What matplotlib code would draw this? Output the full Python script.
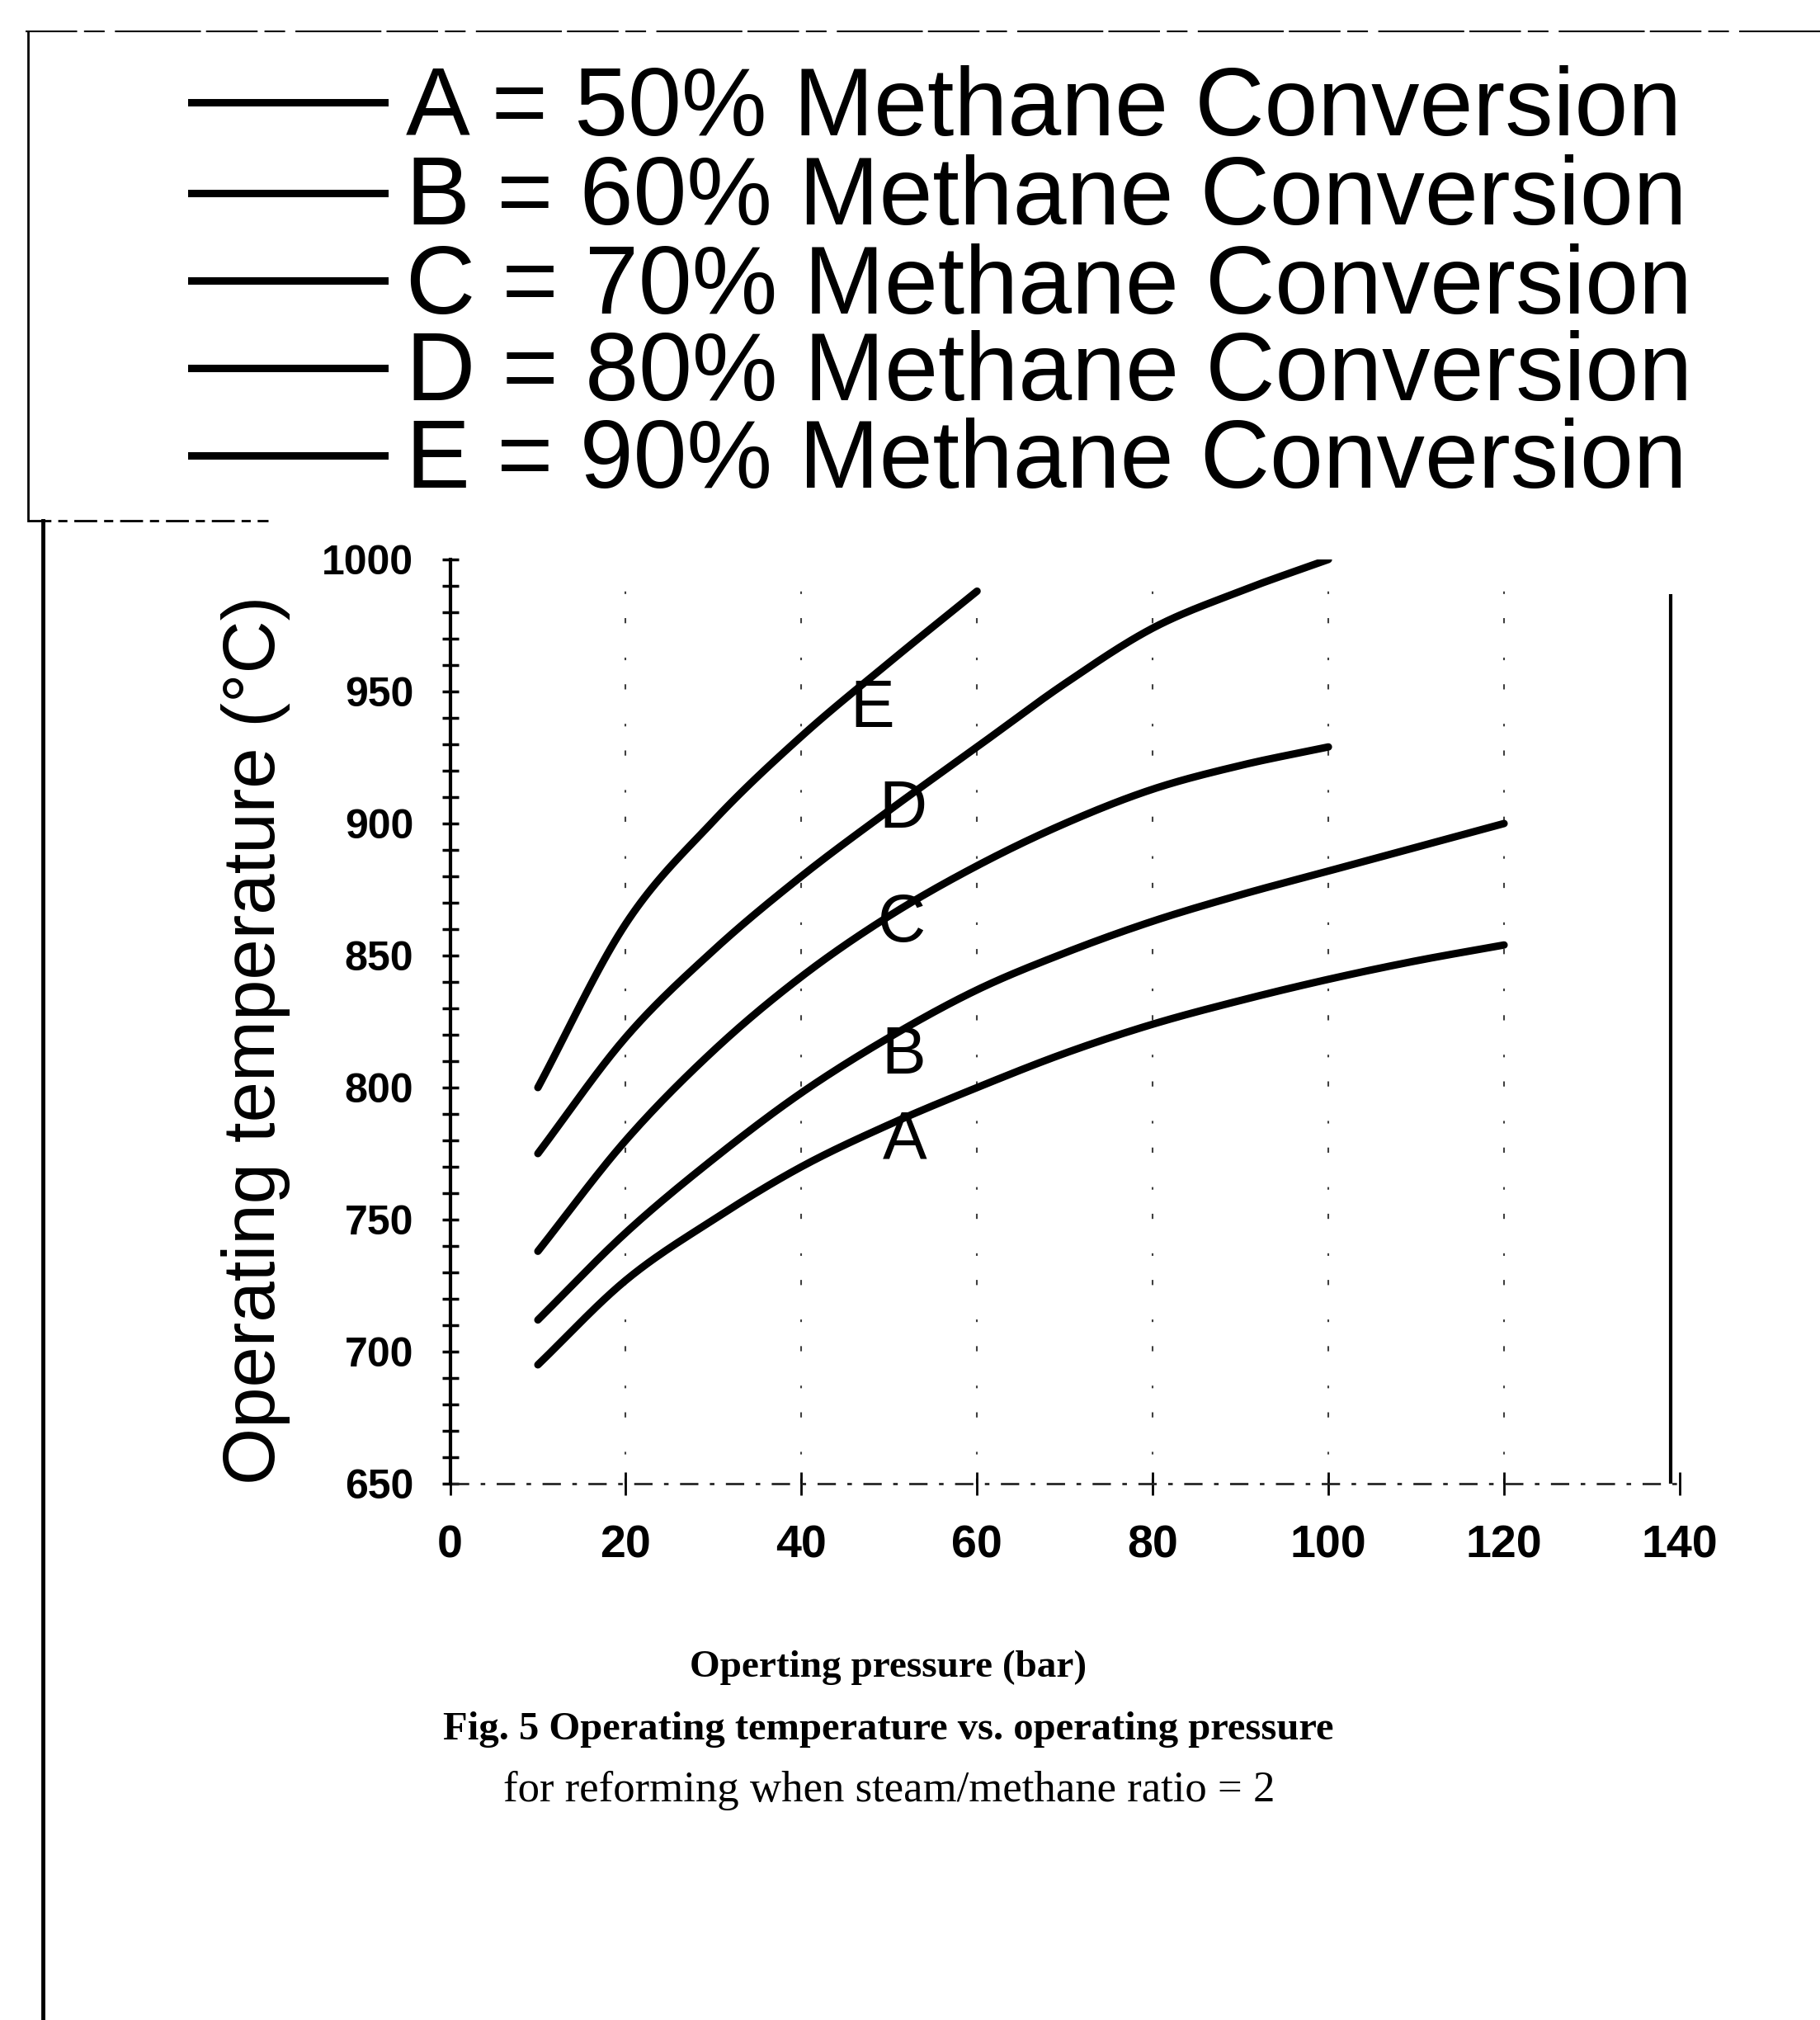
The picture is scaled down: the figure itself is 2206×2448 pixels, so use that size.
import numpy as np
import matplotlib
matplotlib.use('Agg')
import matplotlib.pyplot as plt
from matplotlib.lines import Line2D
from matplotlib.ticker import MultipleLocator

plt.rcParams['font.family'] = ['Liberation Sans', 'DejaVu Sans']

# Data (pressure in bar, temperature in deg C)
x_A = [10, 20, 30, 40, 50, 60, 70, 80, 90, 100, 110, 120]
t_A = [695, 727, 750, 770, 786, 800, 813, 824, 833, 841, 848, 854]
x_B = [10, 20, 30, 40, 50, 60, 70, 80, 90, 100, 110, 120]
t_B = [712, 745, 773, 798, 819, 837, 851, 863, 873, 882, 891, 900]
x_C = [10, 20, 30, 40, 50, 60, 70, 80, 90, 100]
t_C = [738, 780, 814, 842, 865, 884, 900, 913, 922, 929]
x_D = [10, 20, 30, 40, 50, 60, 70, 80, 90, 100]
t_D = [775, 819, 852, 880, 905, 929, 953, 974, 988, 1000]
x_E = [10, 20, 30, 40, 50, 60]
t_E = [800, 862, 901, 933, 961, 988]

curve_names = ['A', 'B', 'C', 'D', 'E']
conversions = [50, 60, 70, 80, 90]
label_x = [51.8, 51.6, 51.4, 51.6, 48.1]
label_t = [780, 812, 862, 905, 943]

xticks = [0, 20, 40, 60, 80, 100, 120, 140]
yticks = [650, 700, 750, 800, 850, 900, 950, 1000]


def smooth(x, y, n=25):
    # Catmull-Rom pass through the read points (like Excel's smoothed line)
    x = np.asarray(x, float)
    y = np.asarray(y, float)
    px = np.concatenate([[2 * x[0] - x[1]], x, [2 * x[-1] - x[-2]]])
    py = np.concatenate([[2 * y[0] - y[1]], y, [2 * y[-1] - y[-2]]])
    xs, ys = [], []
    t = np.linspace(0, 1, n)
    for i in range(1, len(px) - 2):
        for p, out in ((px, xs), (py, ys)):
            p0, p1, p2, p3 = p[i - 1], p[i], p[i + 1], p[i + 2]
            out.extend(0.5 * ((2 * p1) + (-p0 + p2) * t
                              + (2 * p0 - 5 * p1 + 4 * p2 - p3) * t ** 2
                              + (-p0 + 3 * p1 - 3 * p2 + p3) * t ** 3))
    return np.array(xs), np.array(ys)


W, H = 2206, 2448
fig = plt.figure(figsize=(W / 100, H / 100), dpi=100)
fig.patch.set_facecolor('white')


def fx(px):
    return px / W


def fy(py):
    return 1 - py / H


ax = fig.add_axes([fx(545.5), fy(1798), fx(2036) - fx(545.5), fy(678) - fy(1798)])
ax.set_xlim(0, 140)
ax.set_ylim(650, 1000)

series = [(x_A, t_A), (x_B, t_B), (x_C, t_C), (x_D, t_D), (x_E, t_E)]
for (xs, ts) in series:
    sx, sy = smooth(xs, ts)
    ax.plot(sx, sy, color='black', lw=6.5, solid_capstyle='round', zorder=3)

for name, lx, lt in zip(curve_names, label_x, label_t):
    ax.text(lx, lt, name, fontsize=58, ha='center', va='center', zorder=4)

# broken vertical grid lines
for gx in xticks[1:-1]:
    ax.axvline(gx, color='0.25', lw=1.5, linestyle=(0, (3, 14, 1.5, 20)), zorder=1)

ax.spines['top'].set_visible(False)
ax.spines['right'].set_visible(False)
ax.spines['bottom'].set_visible(False)
ax.spines['left'].set_linewidth(3)
ax.axhline(650, color='0.15', lw=2, linestyle=(0, (8, 5, 2, 5)), clip_on=False, zorder=2)
ax.vlines(139, 650, 987, color='black', lw=3)

ax.set_xticks(xticks)
ax.set_yticks(yticks)
ax.yaxis.set_minor_locator(MultipleLocator(10))
ax.tick_params(axis='y', which='both', direction='inout', length=14, width=2.5, pad=25)
ax.tick_params(axis='x', which='both', direction='inout', length=20, width=2, pad=26)
for lab in ax.get_yticklabels():
    lab.set_fontsize(36)
    lab.set_fontweight('bold')
for lab in ax.get_xticklabels():
    lab.set_fontsize(40)
    lab.set_fontweight('bold')

fig.text(fx(310), fy(1260), 'Operating temperature (\u00b0C)', rotation=90,
         fontsize=64, ha='center', va='center')

# legend block at the top
row_base = [164, 272, 380, 485, 591]
row_line = [124, 234, 340, 446, 552]
for name, conv, yb, yl in zip(curve_names, conversions, row_base, row_line):
    fig.add_artist(Line2D([fx(232), fx(466)], [fy(yl), fy(yl)], color='black', lw=6.5))
    fig.text(fx(492), fy(yb), f'{name} = {conv}% Methane Conversion',
             fontsize=84, ha='left', va='baseline')

# caption texts
serif = ['Liberation Serif', 'DejaVu Serif']
fig.text(fx(1077), fy(2021), 'Operting pressure (bar)', family=serif,
         fontweight='bold', fontsize=34, ha='center', va='center')
fig.text(fx(1077), fy(2096), 'Fig. 5 Operating temperature vs. operating pressure',
         family=serif, fontweight='bold', fontsize=35, ha='center', va='center')
fig.text(fx(1078), fy(2170), 'for reforming when steam/methane ratio = 2',
         family=serif, fontsize=38, ha='center', va='center')

# scanned page frame
frame = dict(color='black', transform=fig.transFigure)
fig.add_artist(Line2D([fx(31), fx(W)], [fy(38), fy(38)], lw=1.5,
                      linestyle=(0, (30, 4, 12, 6, 50, 3)), **frame))
fig.add_artist(Line2D([fx(34), fx(34)], [fy(38), fy(631)], lw=2, **frame))
fig.add_artist(Line2D([fx(34), fx(325)], [fy(631), fy(631)], lw=2,
                      linestyle=(0, (10, 3, 4, 3)), **frame))
fig.add_artist(Line2D([fx(52), fx(52)], [fy(631), fy(H)], lw=3.5, **frame))

fig.savefig('out.png', dpi=100, facecolor='white')
